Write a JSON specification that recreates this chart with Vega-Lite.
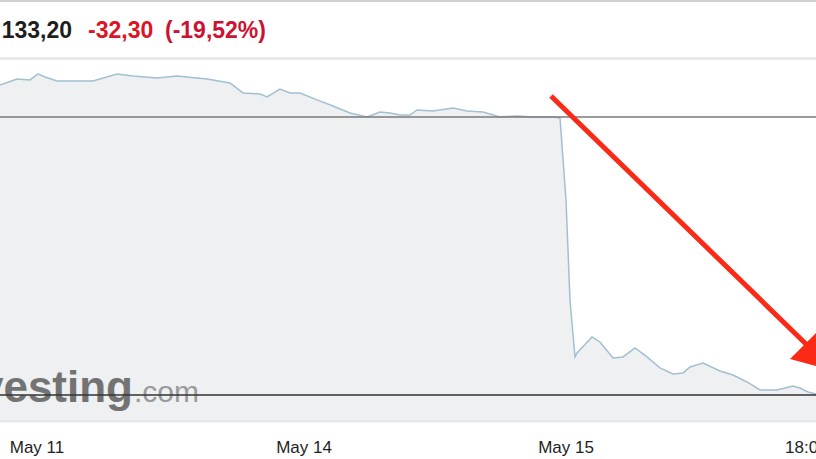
{
  "$schema": "https://vega.github.io/schema/vega-lite/v6.json",
  "width": 816,
  "height": 459,
  "autosize": {"type": "none"},
  "padding": 0,
  "background": "#ffffff",
  "config": {"view": {"stroke": null}},
  "data": {"values": [{}]},
  "datasets": {
    "price": [
      {"pos": 0, "price": 169.22}, {"pos": 17, "price": 169.91}, {"pos": 30, "price": 169.8},
      {"pos": 38, "price": 170.5}, {"pos": 45, "price": 170.15}, {"pos": 57, "price": 169.68},
      {"pos": 73, "price": 169.68}, {"pos": 93, "price": 169.68}, {"pos": 117, "price": 170.5},
      {"pos": 133, "price": 170.26}, {"pos": 157, "price": 170.03}, {"pos": 177, "price": 170.26},
      {"pos": 207, "price": 169.91}, {"pos": 230, "price": 169.45}, {"pos": 243, "price": 168.29},
      {"pos": 260, "price": 168.17}, {"pos": 267, "price": 167.82}, {"pos": 280, "price": 168.75},
      {"pos": 290, "price": 168.29}, {"pos": 300, "price": 168.29}, {"pos": 317, "price": 167.48},
      {"pos": 333, "price": 166.78}, {"pos": 350, "price": 165.96}, {"pos": 367, "price": 165.5},
      {"pos": 380, "price": 166.08}, {"pos": 390, "price": 165.96}, {"pos": 400, "price": 165.73},
      {"pos": 410, "price": 165.73}, {"pos": 417, "price": 166.31}, {"pos": 433, "price": 166.2},
      {"pos": 453, "price": 166.55}, {"pos": 467, "price": 166.2}, {"pos": 483, "price": 166.08},
      {"pos": 500, "price": 165.5}, {"pos": 517, "price": 165.62}, {"pos": 533, "price": 165.5},
      {"pos": 553, "price": 165.5}, {"pos": 560, "price": 165.38}, {"pos": 566, "price": 155.86},
      {"pos": 570, "price": 144.24}, {"pos": 575, "price": 137.62}, {"pos": 577, "price": 138.08},
      {"pos": 592, "price": 139.94}, {"pos": 600, "price": 139.36}, {"pos": 613, "price": 137.5},
      {"pos": 623, "price": 137.62}, {"pos": 635, "price": 138.66}, {"pos": 647, "price": 137.62},
      {"pos": 660, "price": 136.34}, {"pos": 673, "price": 135.64}, {"pos": 683, "price": 135.76},
      {"pos": 690, "price": 136.45}, {"pos": 703, "price": 136.92}, {"pos": 720, "price": 135.99},
      {"pos": 733, "price": 135.52}, {"pos": 747, "price": 134.71}, {"pos": 760, "price": 133.78},
      {"pos": 777, "price": 133.78}, {"pos": 793, "price": 134.25}, {"pos": 800, "price": 134.01},
      {"pos": 808, "price": 133.55}, {"pos": 816, "price": 133.32}
    ],
    "ticks": [
      {"pos": 37, "label": "May 11"},
      {"pos": 304, "label": "May 14"},
      {"pos": 566, "label": "May 15"}
    ],
    "arrow": [
      {"pos": 551, "price": 167.94, "pos2": 806, "price2": 139.13}
    ],
    "arrowhead": [
      {"pos": 818, "price": 137.62}
    ]
  },
  "layer": [
    {
      "data": {"name": "price"},
      "mark": {"type": "area", "color": "#eef0f1", "opacity": 1},
      "encoding": {
        "x": {"field": "pos", "type": "quantitative", "scale": {"domain": [0, 816], "nice": false, "zero": false}, "axis": null},
        "y": {"field": "price", "type": "quantitative", "scale": {"domain": [125.76, 179.09], "nice": false, "zero": false}, "axis": null},
        "y2": {"datum": 130.3}
      }
    },
    {
      "mark": {"type": "rule", "color": "#e4e4e4", "strokeWidth": 2},
      "encoding": {"y": {"datum": 130.15}}
    },
    {
      "mark": {"type": "rule", "color": "#d0d0d0", "strokeWidth": 2},
      "encoding": {"y": {"datum": 178.98}}
    },
    {
      "mark": {"type": "rule", "color": "#e8e8e8", "strokeWidth": 3},
      "encoding": {"y": {"datum": 172.3}}
    },
    {
      "mark": {"type": "text", "text": "Investing", "align": "right", "baseline": "alphabetic", "font": "Liberation Sans, Arial, sans-serif", "fontWeight": "bold", "fontSize": 44, "color": "#666666", "opacity": 0.9, "clip": true},
      "encoding": {"x": {"datum": 133}, "y": {"datum": 132.39}}
    },
    {
      "mark": {"type": "text", "text": ".com", "align": "left", "baseline": "alphabetic", "font": "Liberation Sans, Arial, sans-serif", "fontSize": 30, "color": "#9a9a9a"},
      "encoding": {"x": {"datum": 134}, "y": {"datum": 132.39}}
    },
    {
      "data": {"name": "price"},
      "mark": {"type": "line", "color": "#a3bfd2", "strokeWidth": 1.5},
      "encoding": {
        "x": {"field": "pos", "type": "quantitative"},
        "y": {"field": "price", "type": "quantitative"}
      }
    },
    {
      "mark": {"type": "rule", "color": "#7a7a7a", "strokeWidth": 1.5},
      "encoding": {"y": {"datum": 165.5}}
    },
    {
      "mark": {"type": "rule", "color": "#333333", "strokeWidth": 1.5},
      "encoding": {"y": {"datum": 133.2}}
    },
    {
      "data": {"name": "arrow"},
      "mark": {"type": "rule", "color": "#fa2a16", "strokeWidth": 5, "strokeCap": "butt"},
      "encoding": {
        "x": {"field": "pos", "type": "quantitative"},
        "y": {"field": "price", "type": "quantitative"},
        "x2": {"field": "pos2"},
        "y2": {"field": "price2"}
      }
    },
    {
      "data": {"name": "arrowhead"},
      "mark": {"type": "point", "shape": "triangle-right", "filled": true, "color": "#fa2a16", "opacity": 1, "size": 1800, "angle": 45, "clip": true},
      "encoding": {
        "x": {"field": "pos", "type": "quantitative"},
        "y": {"field": "price", "type": "quantitative"}
      }
    },
    {
      "mark": {"type": "text", "text": "133,20", "align": "right", "baseline": "alphabetic", "font": "Liberation Sans, Arial, sans-serif", "fontWeight": "bold", "fontSize": 23, "color": "#1e1e1e", "clip": true},
      "encoding": {"x": {"datum": 72}, "y": {"datum": 174.68}}
    },
    {
      "mark": {"type": "text", "text": "-32,30", "align": "left", "baseline": "alphabetic", "font": "Liberation Sans, Arial, sans-serif", "fontWeight": "bold", "fontSize": 23, "color": "#dc1426"},
      "encoding": {"x": {"datum": 88}, "y": {"datum": 174.68}}
    },
    {
      "mark": {"type": "text", "text": "(-19,52%)", "align": "left", "baseline": "alphabetic", "font": "Liberation Sans, Arial, sans-serif", "fontWeight": "bold", "fontSize": 23, "color": "#cc1232"},
      "encoding": {"x": {"datum": 165}, "y": {"datum": 174.68}}
    },
    {
      "data": {"name": "ticks"},
      "mark": {"type": "text", "align": "center", "baseline": "alphabetic", "font": "Liberation Sans, Arial, sans-serif", "fontSize": 17, "color": "#1e1e1e"},
      "encoding": {
        "x": {"field": "pos", "type": "quantitative"},
        "y": {"datum": 126.46},
        "text": {"field": "label"}
      }
    },
    {
      "mark": {"type": "text", "text": "18:00", "align": "left", "baseline": "alphabetic", "font": "Liberation Sans, Arial, sans-serif", "fontSize": 17, "color": "#1e1e1e", "clip": true},
      "encoding": {"x": {"datum": 785}, "y": {"datum": 126.46}}
    }
  ]
}
